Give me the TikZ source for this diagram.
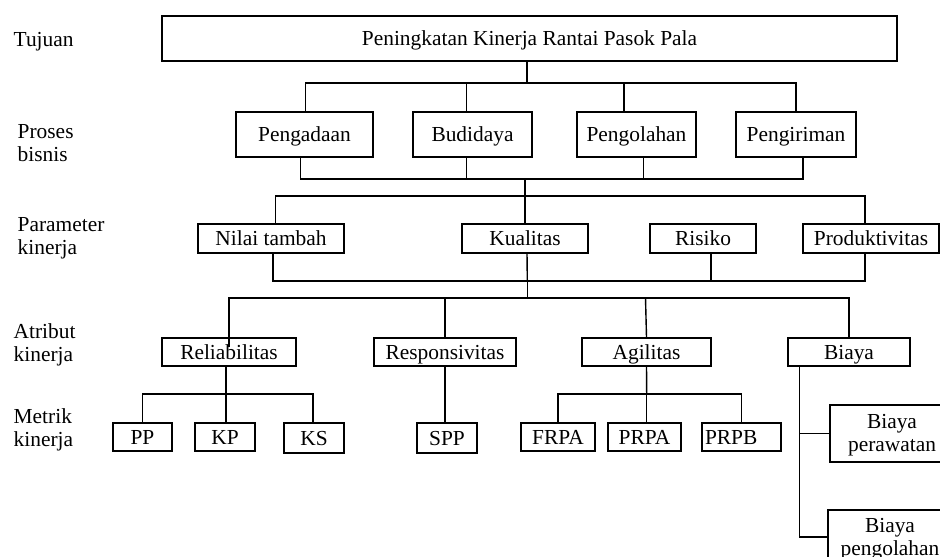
\documentclass[tikz,border=0pt]{standalone}
\usepackage{fontspec}
\setmainfont{Liberation Serif}
\begin{document}
\begin{tikzpicture}[x=0.5pt,y=-0.5pt,line width=0.7pt,font=\fontsize{10.7}{11.5}\selectfont,
  blok/.style={draw,rectangle,inner sep=0pt,line width=0.7pt,align=center,text height=7pt,text depth=0pt},
  lbl/.style={anchor=west,inner sep=0pt,align=left}]
\clip (0,0) rectangle (940,556);
\node[lbl] (tujuan) at (13,41.5) {Tujuan};
\node[lbl] (proses) at (17,143) {Proses\\bisnis};
\node[lbl] (parameter) at (17,238) {Parameter\\kinerja};
\node[lbl] (atribut) at (13,344.5) {Atribut\\kinerja};
\node[lbl] (metrik) at (13,429.5) {Metrik\\kinerja};
\node[blok,minimum width=367.5pt,minimum height=22.5pt] (goal) at (529.5,38.5) {Peningkatan Kinerja Rantai Pasok Pala};
\node[blok,minimum width=68.5pt,minimum height=22.5pt] (pengadaan) at (304.5,134.5) {Pengadaan};
\node[blok,minimum width=59.5pt,minimum height=22.5pt] (budidaya) at (472.5,134.5) {Budidaya};
\node[blok,minimum width=59.5pt,minimum height=22.5pt] (pengolahan) at (636.5,134.5) {Pengolahan};
\node[blok,minimum width=60pt,minimum height=22.5pt] (pengiriman) at (796,134.5) {Pengiriman};
\node[blok,minimum width=73pt,minimum height=14.5pt] (nilai) at (271,238.5) {Nilai tambah};
\node[blok,minimum width=63pt,minimum height=14.5pt] (kualitas) at (525,238.5) {Kualitas};
\node[blok,minimum width=53pt,minimum height=14.5pt] (risiko) at (703,238.5) {Risiko};
\node[blok,minimum width=68pt,minimum height=14.5pt] (produktivitas) at (871,238.5) {Produktivitas};
\node[blok,minimum width=67pt,minimum height=14pt] (reliabilitas) at (229,352) {Reliabilitas};
\node[blok,minimum width=71pt,minimum height=14pt] (responsivitas) at (445,352) {Responsivitas};
\node[blok,minimum width=64.5pt,minimum height=14pt] (agilitas) at (646.5,352) {Agilitas};
\node[blok,minimum width=61pt,minimum height=14pt] (biaya) at (849,352) {Biaya};
\node[blok,minimum width=29.5pt,minimum height=14pt] (pp) at (142.5,437) {PP};
\node[blok,minimum width=30pt,minimum height=14pt] (kp) at (225,437) {KP};
\node[blok,minimum width=30pt,minimum height=15pt] (ks) at (314,438) {KS};
\node[blok,minimum width=30pt,minimum height=15pt] (spp) at (447,438) {SPP};
\node[blok,minimum width=37pt,minimum height=14pt] (frpa) at (558,437) {FRPA};
\node[blok,minimum width=36.5pt,minimum height=14pt] (prpa) at (644.5,437) {PRPA};
\node[blok,text width=36.5pt,inner xsep=1.5pt,align=left,minimum height=14pt] (prpb) at (741.5,437) {PRPB};
\node[blok,text height=18.3pt,minimum width=62pt,minimum height=28.5pt] (bperawatan) at (892,433.5) {Biaya\\perawatan};
\node[blok,text height=18.3pt,minimum width=62pt,minimum height=27pt] (bpengolahan) at (890,537) {Biaya\\pengolahan};
\coordinate (busA) at (527,83);
\coordinate (busB) at (525,179);
\coordinate (busC) at (525,196);
\coordinate (busD) at (527.3,281);
\coordinate (busE) at (527.3,298);
\coordinate (busF) at (226,394);
\coordinate (busG) at (646.7,394);
\coordinate (spine) at ([xshift=6pt]biaya.south west);
\draw (goal.south -| busA) -- (busA);
\draw ([xshift=0.5pt]pengadaan.north) |- (busA) -| (pengiriman.north);
\draw ([xshift=-3pt]budidaya.north) -- ([xshift=-3pt]budidaya.north |- busA);
\draw ([xshift=-6.25pt]pengolahan.north) -- ([xshift=-6.25pt]pengolahan.north |- busA);
\draw ([xshift=-2pt]pengadaan.south) |- (busB) -| ([xshift=3.5pt]pengiriman.south);
\draw ([xshift=-3pt]budidaya.south) -- ([xshift=-3pt]budidaya.south |- busB);
\draw ([xshift=3.5pt]pengolahan.south) -- ([xshift=3.5pt]pengolahan.south |- busB);
\draw (busB) -- (busC);
\draw ([xshift=2.35pt]nilai.north) |- (busC) -| ([xshift=-3pt]produktivitas.north);
\draw (kualitas.north) -- (busC);
\draw ([xshift=1pt]nilai.south) |- (busD) -| ([xshift=-3pt]produktivitas.south);
\draw ([xshift=1pt]kualitas.south) -- (busD);
\draw ([xshift=4pt]risiko.south) -- ([xshift=4pt]risiko.south |- busD);
\draw (busD) -- (busE);
\draw ([yshift=-5pt]reliabilitas.north) |- (busE) -| (biaya.north);
\draw (responsivitas.north) -- (responsivitas.north |- busE);
\draw (agilitas.north) -- ([xshift=-0.5pt]agilitas.north |- busE);
\draw ([xshift=-1.5pt]reliabilitas.south) -- (busF);
\draw (pp.north) |- (busF) -| ([xshift=-0.5pt]ks.north);
\draw (kp.north -| busF) -- (busF);
\draw (responsivitas.south) -- (spp.north -| responsivitas.south);
\draw (agilitas.south) -- (busG);
\draw (frpa.north) |- (busG) -| (prpb.north);
\draw (prpa.north -| busG) -- (busG);
\draw (spine) |- (bpengolahan.west);
\draw (bperawatan.west) -- (bperawatan.west -| spine);
\end{tikzpicture}
\end{document}
